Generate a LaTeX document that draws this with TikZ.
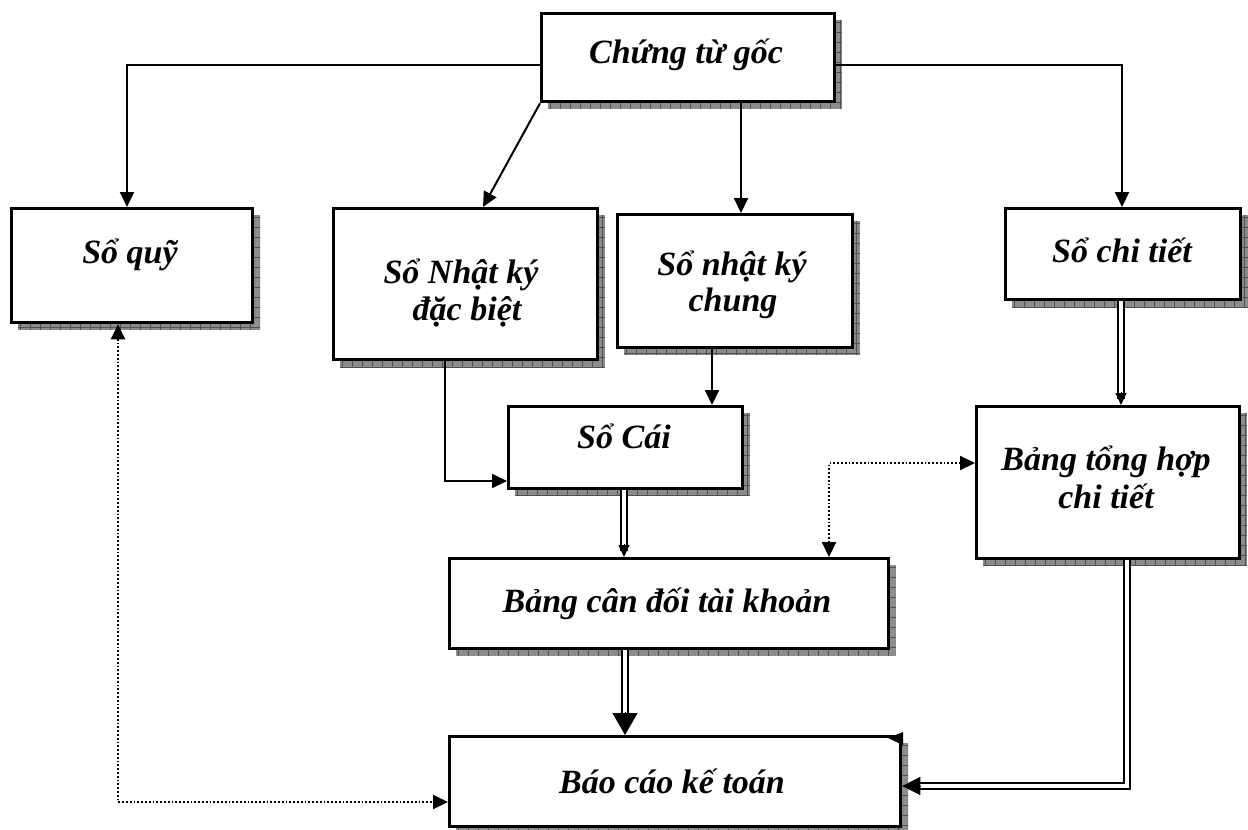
\documentclass[tikz,border=0pt]{standalone}
\usepackage{fontspec}
\setmainfont{Liberation Serif}
\usetikzlibrary{arrows.meta,calc}
\definecolor{shgray}{RGB}{140,140,140}
\definecolor{shline}{RGB}{80,80,80}
\tikzset{
  box/.style={draw=black, line width=3.3pt, fill=white, inner sep=0pt},
  lbl/.style={font=\fontsize{34}{40}\selectfont\bfseries\itshape, inner sep=0pt, anchor=base},
  conn/.style={line width=2pt, -{Triangle[length=15pt,width=14pt]}},
  dbl/.style={line width=1.6pt, double=white, double distance=4.5pt},
  smalltip/.style={line width=1pt, -{Triangle[length=12pt,width=11pt]}},
  bigtip/.style={line width=1pt, -{Triangle[length=22pt,width=25pt]}},
  dotc/.style={line width=2pt, dash pattern=on 1.8pt off 2pt, {Triangle[length=15pt,width=14pt]}-{Triangle[length=15pt,width=14pt]}},
}
\newcommand\shbox[5]{%
  \fill[shgray] ({#2+8},{#3+8}) rectangle ({#4+9},{#5+9});
  \begin{scope}
    \clip ({#2+8},{#3+8}) rectangle ({#4+9},{#5+9});
    \foreach \k in {0,...,50} {%
      \pgfmathsetmacro\xx{#2+10*\k}%
      \pgfmathsetmacro\yy{#3+10*\k}%
      \draw[shline, line width=0.6pt] (\xx,{#3}) -- (\xx,{#5+9});
      \draw[shline, line width=0.6pt] ({#2},\yy) -- ({#4+9},\yy);
    }
  \end{scope}
  \node[box, anchor=north west, minimum width={(#4-#2)*1pt}, minimum height={(#5-#3)*1pt}] (#1) at (#2,#3) {};
}
\begin{document}
\begin{tikzpicture}[x=1pt,y=-1pt]
\useasboundingbox (0,0) rectangle (1248,830);
% boxes
\shbox{cg}{540}{12}{833}{100}
\shbox{sq}{10}{207}{251}{321}
\shbox{ndb}{332}{207}{596}{358}
\shbox{nc}{616}{213}{851}{346}
\shbox{sct}{1004}{207}{1239}{298}
\shbox{cai}{507}{405}{741}{487}
\shbox{bth}{975}{405}{1238}{557}
\shbox{bcd}{448}{557}{887}{647}
\shbox{bck}{448}{735}{899}{825}
% labels
\node[lbl] (t1) at (686,63) {Chứng từ gốc};
\node[lbl] (t2) at (130,263) {Sổ quỹ};
\node[lbl] (t3a) at (461,283) {Sổ Nhật ký};
\node[lbl] (t3b) at (467,320) {đặc biệt};
\node[lbl] (t4a) at (732,275) {Sổ nhật ký};
\node[lbl] (t4b) at (733,311) {chung};
\node[lbl] (t5) at (1122,262) {Sổ chi tiết};
\node[lbl] (t6) at (624,448) {Sổ Cái};
\node[lbl] (t7a) at (1106,470) {Bảng tổng hợp};
\node[lbl] (t7b) at (1106,508) {chi tiết};
\node[lbl] (t8) at (667,612) {Bảng cân đối tài khoản};
\node[lbl] (t9) at (672,793) {Báo cáo kế toán};
% single connectors
\draw[conn] (cg.west |- 0,65) -| (127,0 |- sq.north);
\draw[conn] (cg.east |- 0,65) -| (1122,0 |- sct.north);
\draw[conn] (741,0 |- cg.south) -- (741,0 |- nc.north);
\draw[conn] (cg.south west) -- (483,0 |- ndb.north);
\draw[conn] (712,0 |- nc.south) -- (712,0 |- cai.north);
\draw[conn] (445,0 |- ndb.south) |- (cai.west |- 0,481);
% double connectors
\coordinate (d1a) at (1121,0 |- sct.south);
\coordinate (d1b) at (1121,0 |- bth.north);
\draw[dbl] (d1a) -- ($(d1b)+(0,-6)$);
\draw[smalltip] ($(d1b)+(0,-13)$) -- (d1b);
\coordinate (d2a) at (624,0 |- cai.south);
\coordinate (d2b) at (624,0 |- bcd.north);
\draw[dbl] (d2a) -- ($(d2b)+(0,-6)$);
\draw[smalltip] ($(d2b)+(0,-13)$) -- (d2b);
\coordinate (d3a) at (625,0 |- bcd.south);
\coordinate (d3b) at (625,0 |- bck.north);
\draw[dbl] (d3a) -- ($(d3b)+(0,-15)$);
\draw[bigtip] ($(d3b)+(0,-23)$) -- (d3b);
\coordinate (d4a) at (1127,0 |- bth.south);
\coordinate (d4b) at (bck.east |- 0,786);
\draw[dbl] (d4a) |- ($(d4b)+(10,0)$);
\draw[line width=1pt, -{Triangle[length=18pt,width=18pt]}] ($(d4b)+(19,0)$) -- (d4b);
% stray tip
\fill (888,738) -- (903,732) -- (903,745) -- cycle;
% dotted connectors
\draw[dotc] (bth.west |- 0,463) -| (829,0 |- bcd.north);
\draw[dotc] (sq.south -| 118,0) |- (bck.west |- 0,802);
\end{tikzpicture}
\end{document}
